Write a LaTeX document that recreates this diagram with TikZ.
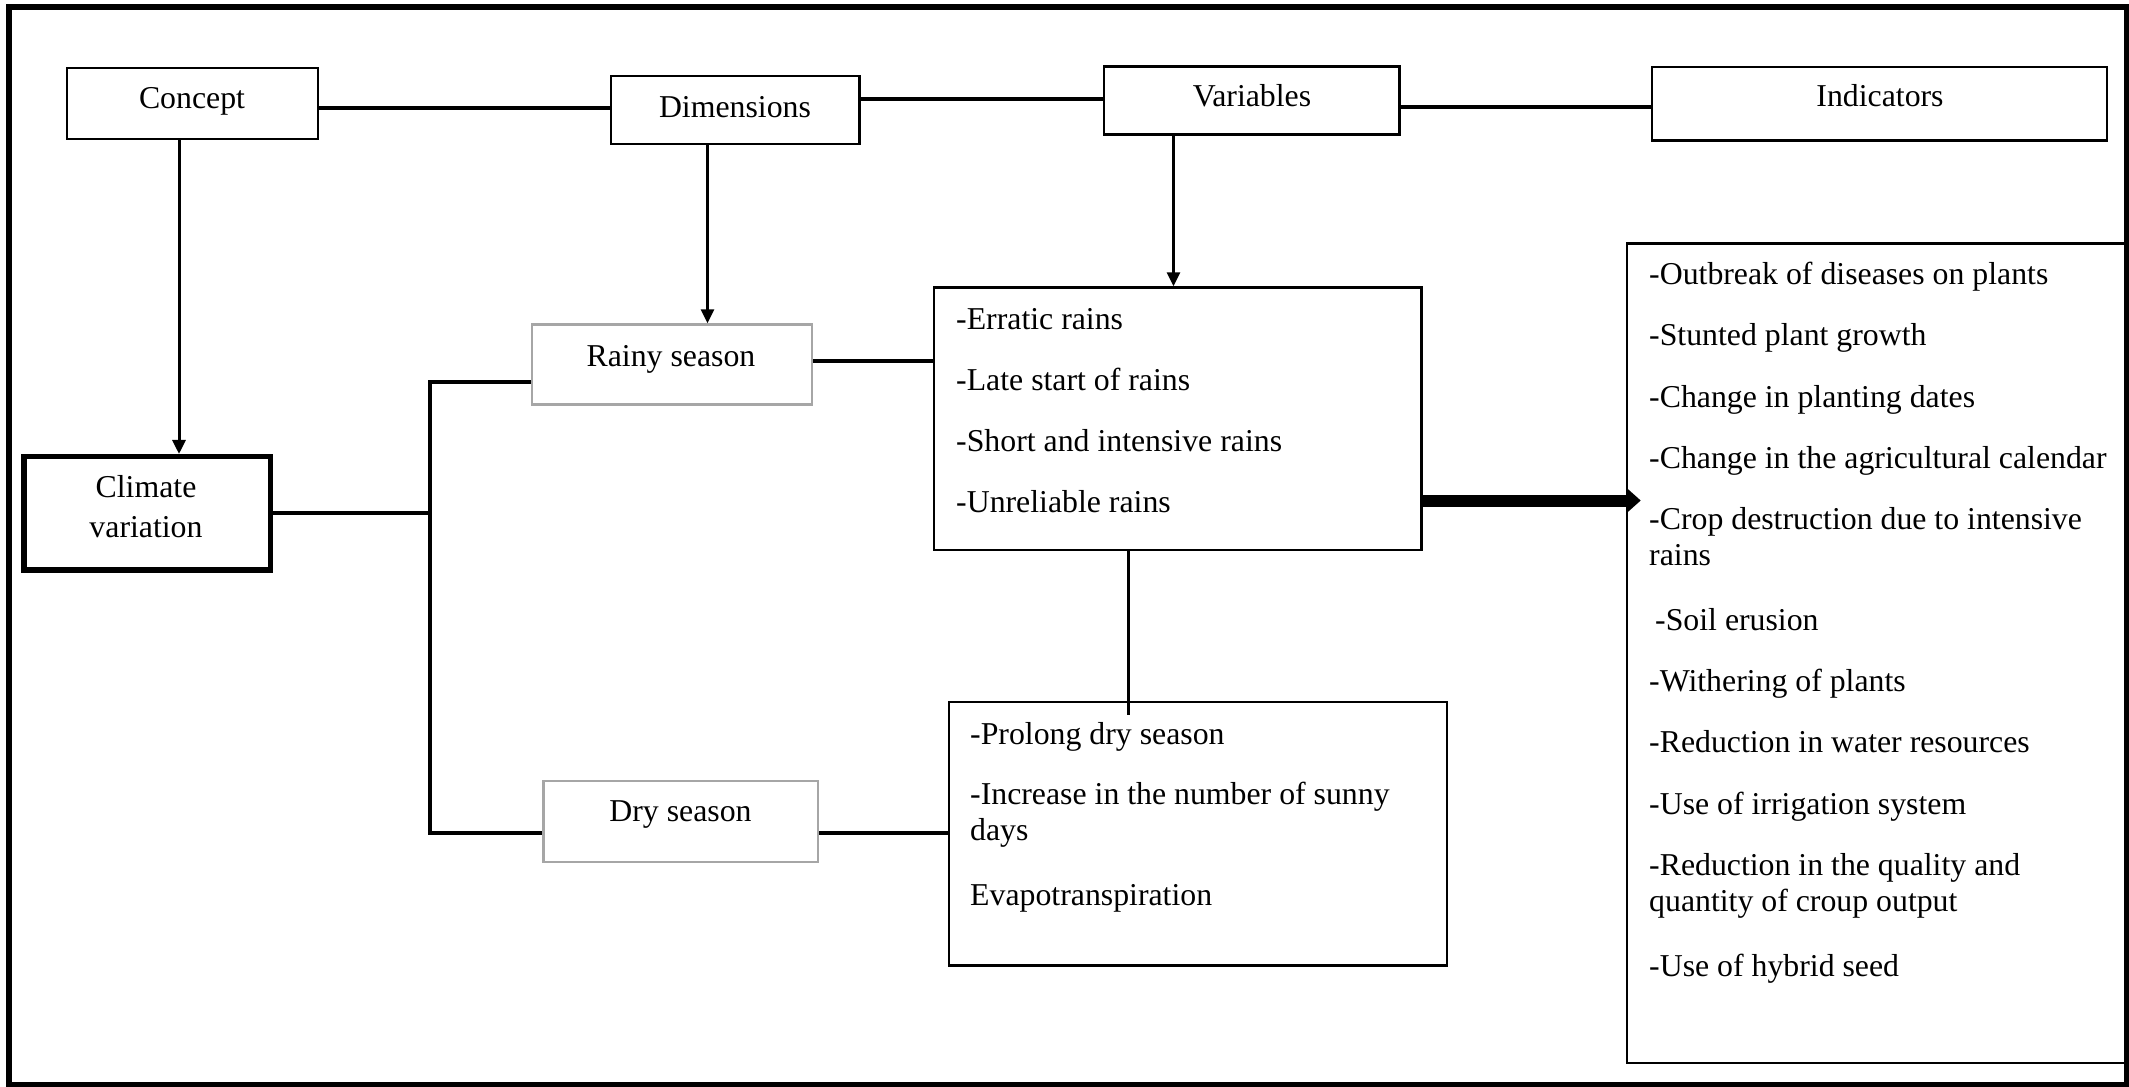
\documentclass[tikz,border=0pt]{standalone}
\usepackage{fontspec}
\setmainfont{Liberation Serif}
\usetikzlibrary{arrows.meta,fit}
\definecolor{boxgray}{RGB}{166,166,166}
\begin{document}
\begin{tikzpicture}[x=1pt,y=-1pt,
  box/.style={draw=black, line width=2.5pt, inner sep=0pt},
  graybox/.style={draw=boxgray, line width=2.5pt, inner sep=0pt},
  boldbox/.style={draw=black, line width=5.5pt, inner sep=0pt},
  conn/.style={draw=black, line width=4pt},
  arr/.style={draw=black, line width=3pt, -{Triangle[length=14pt,width=13pt]}},
  bigarr/.style={draw=black, line width=12pt, -{Triangle[length=14pt,width=24pt]}, shorten >=-15pt},
  txt/.style={inner sep=0pt, font=\fontsize{31.8}{36}\selectfont},
  item/.style={txt, anchor=base west},
  lbl/.style={txt, anchor=base}]
\useasboundingbox (0,0) rectangle (2129,1087);
% outer frame
\node[fit={(8.5,7)(2126.5,1084.5)}, draw=black, line width=6pt, inner sep=0pt] (frame) {};
% top row
\node[box, fit={(67,68)(318,139)}] (concept) {};
\node[lbl] (concept-t) at (192,108) {Concept};
\node[box, fit={(611,76)(859.5,144)}] (dimensions) {};
\node[lbl] (dimensions-t) at (735,117) {Dimensions};
\node[box, fit={(1104,66.5)(1399.5,134.5)}] (variables) {};
\node[lbl] (variables-t) at (1252,106.7) {Variables};
\node[box, fit={(1652,67)(2107,140.5)}] (indicators) {};
\node[lbl] (indicators-t) at (1880,106.7) {Indicators};
% climate variation
\node[boldbox, fit={(24,456.7)(270.5,570)}] (climate) {};
\node[lbl] (climate-t1) at (146,497) {Climate};
\node[lbl] (climate-t2) at (146,537) {variation};
% seasons
\node[graybox, fit={(532,324.5)(812,404.5)}] (rainy) {};
\node[lbl] (rainy-t) at (671,366) {Rainy season};
\node[graybox, fit={(543.5,781)(818,862)}] (dry) {};
\node[lbl] (dry-t) at (680.5,821.7) {Dry season};
% rainy variables box
\node[box, fit={(934,287.5)(1421.5,550)}] (rbox) {};
\node[item] (r1) at (956,329) {-Erratic rains};
\node[item] (r2) at (956,390) {-Late start of rains};
\node[item] (r3) at (956,451) {-Short and intensive rains};
\node[item] (r4) at (956,512) {-Unreliable rains};
% dry variables box
\node[box, fit={(949,702)(1447,965.5)}] (dbox) {};
\node[item] (d1) at (970,744) {-Prolong dry season};
\node[item] (d2) at (970,804) {-Increase in the number of sunny};
\node[item] (d3) at (970,840) {days};
\node[item] (d4) at (970,905) {Evapotranspiration};
% indicators box
\node[box, fit={(1627,243.5)(2126.5,1063)}] (indbox) {};
\node[item] (i1) at (1649,284) {-Outbreak of diseases on plants};
\node[item] (i2) at (1649,345) {-Stunted plant growth};
\node[item] (i3) at (1649,407) {-Change in planting dates};
\node[item] (i4) at (1649,468) {-Change in the agricultural calendar};
\node[item] (i5) at (1649,529) {-Crop destruction due to intensive};
\node[item] (i6) at (1649,565) {rains};
\node[item] (i7) at (1655,630) {-Soil erusion};
\node[item] (i8) at (1649,691) {-Withering of plants};
\node[item] (i9) at (1649,752) {-Reduction in water resources};
\node[item] (i10) at (1649,814) {-Use of irrigation system};
\node[item] (i11) at (1649,875) {-Reduction in the quality and};
\node[item] (i12) at (1649,911) {quantity of croup output};
\node[item] (i13) at (1649,976) {-Use of hybrid seed};
% connectors
\draw[conn] (concept.east |- 0,108) -- (dimensions.west |- 0,108);
\draw[conn] (dimensions.east |- 0,98.7) -- (variables.west |- 0,98.7);
\draw[conn] (variables.east |- 0,106.7) -- (indicators.west |- 0,106.7);
\draw[arr] (concept.south -| 179,0) -- (climate.north -| 179,0);
\draw[arr] (dimensions.south -| 707.5,0) -- (rainy.north -| 707.5,0);
\draw[arr] (variables.south -| 1173.5,0) -- (rbox.north -| 1173.5,0);
\draw[conn] (climate.east) -- (climate.east -| 430,0);
\draw[conn] (rainy.west |- 0,381.5) -- (430,381.5) -- (430,832.7) -- (dry.west |- 0,832.7);
\draw[conn] (rainy.east |- 0,361) -- (rbox.west |- 0,361);
\draw[conn] (dry.east |- 0,832.7) -- (dbox.west |- 0,832.7);
\draw[line width=3pt] (rbox.south -| 1128.5,0) -- (1128.5,715);
\draw[bigarr] (rbox.east |- 0,500.5) -- (indbox.west |- 0,500.5);
\end{tikzpicture}
\end{document}
